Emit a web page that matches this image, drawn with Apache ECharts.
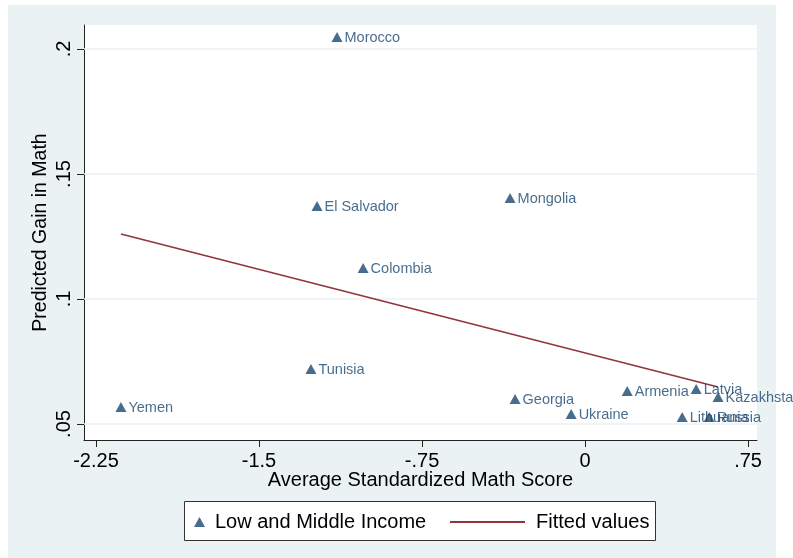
<!DOCTYPE html>
<html>
<head>
<meta charset="utf-8">
<script src="https://cdn.jsdelivr.net/npm/echarts@6/dist/echarts.min.js"></script>
<style>
  html, body { margin: 0; padding: 0; background: #fff; }
  #chart { width: 793px; height: 558px; }
</style>
</head>
<body>
<div id="chart"></div>
<script>
  // data
  const countries = ['Morocco', 'El Salvador', 'Mongolia', 'Colombia', 'Tunisia', 'Yemen', 'Georgia',
    'Ukraine', 'Armenia', 'Latvia', 'Kazakhstan', 'Lithuania', 'Russia']
  const mathScore = [-1.141, -1.233, -0.345, -1.021, -1.261, -2.135, -0.322,
    -0.064, 0.194, 0.511, 0.612, 0.447, 0.571]
  const predictedGain = [0.2048, 0.1372, 0.1404, 0.1124, 0.072, 0.0568, 0.060,
    0.054, 0.0632, 0.064, 0.0608, 0.0528, 0.0528]
  const fitX = [-2.135, 0.612]
  const fitY = [0.126, 0.0648]

  const xTickValues = [-2.25, -1.5, -0.75, 0, 0.75]
  const xTickLabels = ['-2.25', '-1.5', '-.75', '0', '.75']
  const yTickValues = [0.05, 0.1, 0.15, 0.2]
  const yTickLabels = ['.05', '.1', '.15', '.2']

  const navy = '#1a476f'
  const maroon = '#90353b'
  const font = 'Liberation Sans, Arial, sans-serif'

  const chart = echarts.init(document.getElementById('chart'))

  const option = {
    backgroundColor: '#ffffff',
    animation: false,
    textStyle: { fontFamily: font },
    graphic: [
      { type: 'rect', z: -10, shape: { x: 8, y: 5, width: 768, height: 553 }, style: { fill: '#eaf2f3' } },
      { type: 'rect', z: -9, shape: { x: 84, y: 25, width: 673, height: 415 }, style: { fill: '#ffffff' } },
      { type: 'rect', z: 1, shape: { x: 184.5, y: 501.5, width: 471, height: 39 }, style: { fill: '#ffffff', stroke: '#333', lineWidth: 1 } }
    ],
    grid: {
      left: 84,
      right: 36,
      top: 25,
      bottom: 118
    },
    legend: [
      {
        left: 189,
        top: 507,
        z: 5,
        icon: 'triangle',
        itemWidth: 11,
        itemHeight: 10,
        itemGap: 0,
        data: ['Low and Middle Income'],
        textStyle: { fontSize: 20, color: '#000', fontFamily: font, padding: [0, 0, 0, 5] }
      },
      {
        left: 445,
        top: 507,
        z: 5,
        icon: 'rect',
        itemWidth: 75,
        itemHeight: 2,
        data: ['Fitted values'],
        textStyle: { fontSize: 20, color: '#000', fontFamily: font, padding: [0, 0, 0, 6] }
      }
    ],
    xAxis: {
      type: 'value',
      min: -2.305,
      max: 0.791,
      name: 'Average Standardized Math Score',
      nameLocation: 'middle',
      nameGap: 30,
      nameMoveOverlap: false,
      nameTextStyle: { fontSize: 20, color: '#000', fontFamily: font },
      axisLine: { show: true, onZero: false, lineStyle: { color: '#222', width: 1 } },
      axisTick: { show: true, inside: false, length: 7, customValues: xTickValues, lineStyle: { color: '#222' } },
      axisLabel: {
        customValues: xTickValues,
        fontSize: 20,
        color: '#000',
        margin: 11,
        formatter: v => xTickLabels[xTickValues.indexOf(v)] ?? ''
      },
      splitLine: { show: false }
    },
    yAxis: {
      type: 'value',
      min: 0.0436,
      max: 0.2096,
      name: 'Predicted Gain in Math',
      nameLocation: 'middle',
      nameGap: 33,
      nameMoveOverlap: false,
      nameTextStyle: { fontSize: 19.5, color: '#000', fontFamily: font },
      axisLine: { show: true, onZero: false, lineStyle: { color: '#222', width: 1 } },
      axisTick: { show: true, inside: false, length: 7, customValues: yTickValues, lineStyle: { color: '#222' } },
      axisLabel: {
        customValues: yTickValues,
        fontSize: 20,
        color: '#000',
        rotate: 90,
        margin: 10,
        formatter: v => yTickLabels[yTickValues.indexOf(v)] ?? ''
      },
      splitLine: { show: false }
    },
    series: [
      {
        name: 'Low and Middle Income',
        type: 'scatter',
        symbol: 'triangle',
        symbolSize: [11, 10],
        itemStyle: { color: navy },
        data: mathScore.map((x, i) => [x, predictedGain[i], countries[i]]),
        label: {
          show: true,
          position: 'right',
          distance: 2,
          offset: [0, 1],
          color: navy,
          fontSize: 14.5,
          fontFamily: font,
          formatter: p => p.data[2]
        },
        markLine: {
          silent: true,
          symbol: 'none',
          z: 1,
          label: { show: false },
          lineStyle: { color: '#eaf2f3', width: 1.5, type: 'solid' },
          data: yTickValues.map(v => ({ yAxis: v }))
        },
        z: 3
      },
      {
        name: 'Fitted values',
        type: 'line',
        symbol: 'none',
        lineStyle: { color: maroon, width: 1.6 },
        itemStyle: { color: maroon },
        data: fitX.map((x, i) => [x, fitY[i]]),
        z: 2
      }
    ]
  }

  chart.setOption(option)
</script>
</body>
</html>
